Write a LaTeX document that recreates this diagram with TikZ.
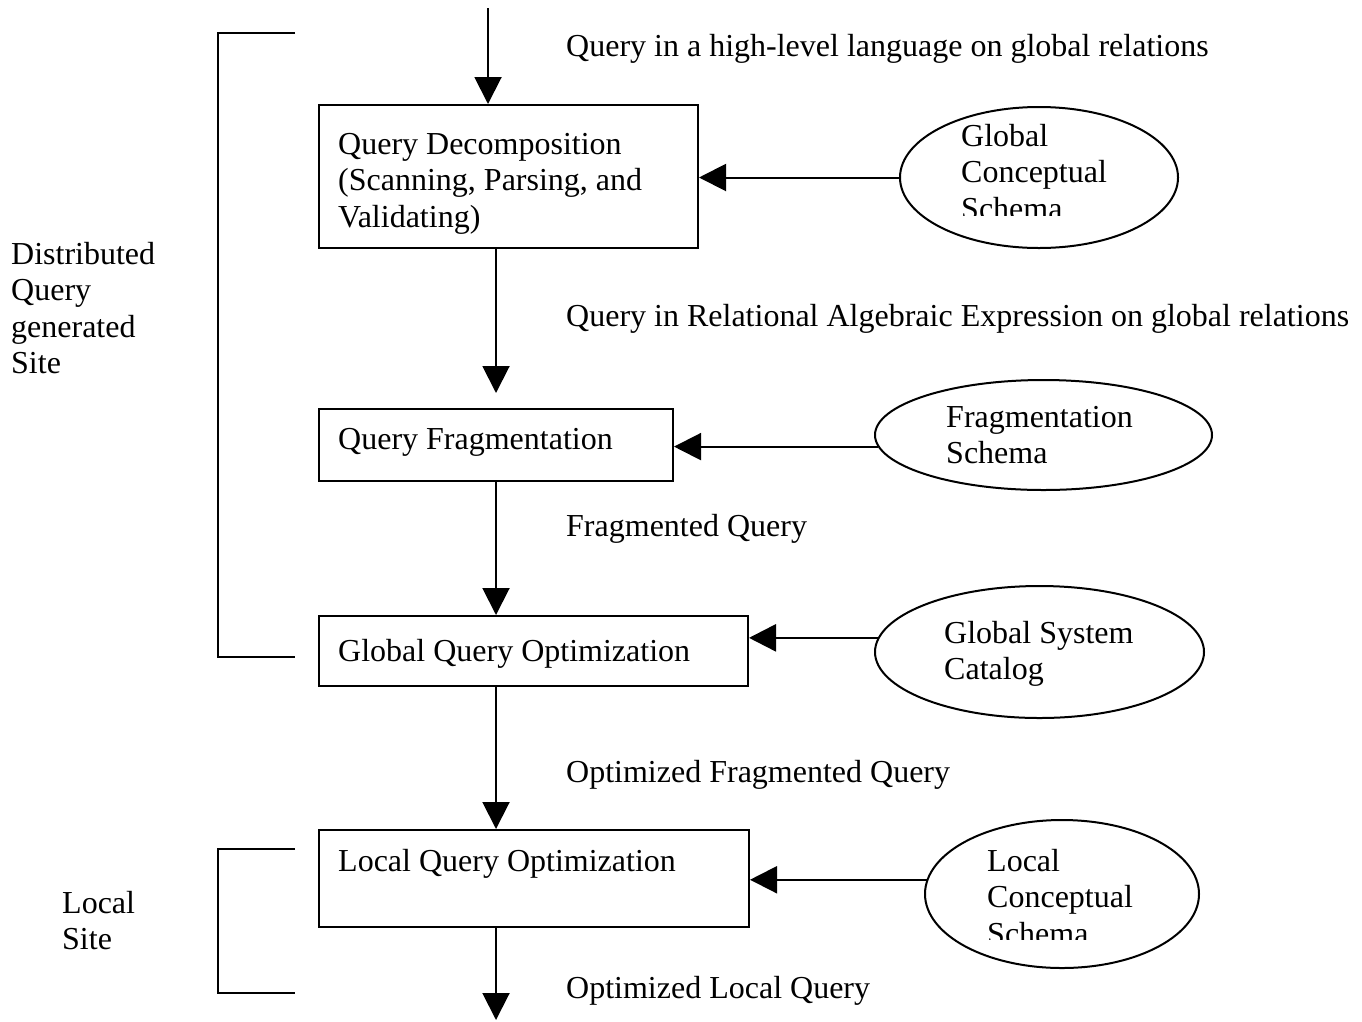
\documentclass[tikz,border=0pt]{standalone}
\usepackage{fontspec}
\setmainfont{Liberation Serif}
\usetikzlibrary{arrows.meta,shapes.geometric,calc}
\begin{document}
\begin{tikzpicture}[x=1pt,y=-1pt,
  every node/.style={font=\fontsize{32}{36.6}\selectfont},
  box/.style={draw,line width=2pt,rectangle,inner sep=0pt},
  oval/.style={draw,line width=2pt,ellipse,inner sep=0pt},
  lbl/.style={anchor=base west,inner sep=0pt,align=left},
  arr/.style={line width=2pt,-{Triangle[length=27pt,width=27pt]}},
  brk/.style={line width=2pt}]
\useasboundingbox (0,0) rectangle (1362,1021);

% process boxes
\node[box,minimum width=379pt,minimum height=143pt] (b1) at (508.5,176.5) {};
\node[box,minimum width=354pt,minimum height=72pt] (b2) at (496,445) {};
\node[box,minimum width=429pt,minimum height=70pt] (b3) at (533.5,651) {};
\node[box,minimum width=430pt,minimum height=97pt] (b4) at (534,878.5) {};

% (base anchor of a multi-line node = baseline of its last line)
\node[lbl] (t1) at (338,227.2) {Query Decomposition\\(Scanning, Parsing, and\\Validating)};
\node[lbl] (t2) at (338,449) {Query Fragmentation};
\node[lbl] (t3) at (338,661) {Global Query Optimization};
\node[lbl] (t4) at (338,871) {Local Query Optimization};

% ellipses
\node[oval,minimum width=278pt,minimum height=141pt] (e1) at (1039,177.5) {};
\node[oval,minimum width=337pt,minimum height=110pt] (e2) at (1043.5,435) {};
\node[oval,minimum width=329pt,minimum height=132pt] (e3) at (1039.5,652) {};
\node[oval,minimum width=274pt,minimum height=148pt] (e4) at (1062,894) {};

\begin{scope}
  \clip (940,100) rectangle (1180,215);
  \node[lbl] (s1) at (961,219.2) {Global\\Conceptual\\Schema};
\end{scope}
\node[lbl] (s2) at (946,463.6) {Fragmentation\\Schema};
\node[lbl] (s3) at (944,679.6) {Global System\\Catalog};
\begin{scope}
  \clip (960,830) rectangle (1190,939);
  \node[lbl] (s4) at (987,944.2) {Local\\Conceptual\\Schema};
\end{scope}

% flow labels
\node[lbl] (l0) at (566,56) {Query in a high-level language on global relations};
\node[lbl] (l1) at (566,326) {Query in Relational Algebraic Expression on global relations};
\node[lbl] (l2) at (566,536) {Fragmented Query};
\node[lbl] (l3) at (566,782) {Optimized Fragmented Query};
\node[lbl] (l4) at (566,998) {Optimized Local Query};

% side labels
\node[lbl] (d1) at (11,373.8) {Distributed\\Query\\generated\\Site};
\node[lbl] (d2) at (62,949.6) {Local\\Site};

% brackets
\draw[brk] (295,33) -- (218,33) -- (218,657) -- (295,657);
\draw[brk] (295,849) -- (218,849) -- (218,993) -- (295,993);

% vertical flow arrows
\coordinate (in) at (488,8);
\coordinate (a2) at (496,393);
\coordinate (out) at (496,1020);
\draw[arr] (in) -- (in |- b1.north);
\draw[arr] (b1.south -| a2) -- (a2);
\draw[arr] (b2.south) -- (b3.north -| b2.south);
\draw[arr] (b3.south -| b2.south) -- (b4.north -| b2.south);
\draw[arr] (b4.south -| out) -- (out);

% horizontal arrows from schemas
\draw[arr] (e1.west) -- (e1.west -| b1.east);
\draw[arr] (e2.184.2) -- (e2.184.2 -| b2.east);
\draw[arr,line width=2.6pt] (e3.175) -- (e3.175 -| b3.east);
\draw[arr] (e4.174) -- (e4.174 -| b4.east);
\end{tikzpicture}
\end{document}
